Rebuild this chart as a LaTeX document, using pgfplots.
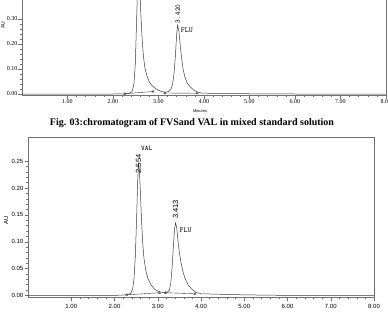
\documentclass[border=0pt]{standalone}
\usepackage{fontspec}
\setmainfont{Liberation Serif}
\newfontfamily\arialf{Liberation Sans}
\newfontfamily\timesf{Liberation Serif}
\usepackage{pgfplots}
\pgfplotsset{compat=1.18}
\definecolor{framec}{HTML}{707070}
\definecolor{tracec}{HTML}{3A3A3A}

\pgfplotstableread{
x y
0.00 0.000
1.00 0.000
2.00 0.000
2.26 0.001
2.35 0.002
2.42 0.010
2.46 0.040
2.49 0.120
2.52 0.300
2.55 0.500
2.58 0.450
2.61 0.330
2.64 0.220
2.67 0.150
2.70 0.105
2.75 0.070
2.80 0.048
2.86 0.033
2.93 0.022
3.00 0.015
3.07 0.010
3.14 0.007
3.22 0.010
3.27 0.018
3.31 0.040
3.34 0.080
3.37 0.150
3.40 0.240
3.42 0.275
3.45 0.250
3.48 0.190
3.51 0.140
3.54 0.100
3.58 0.068
3.63 0.045
3.70 0.028
3.78 0.015
3.85 0.008
3.95 0.004
4.20 0.002
5.00 0.001
6.00 0.000
8.00 0.000
}\topdata

\pgfplotstableread{
x y
0.00 0.000
1.00 0.000
2.00 0.000
2.28 0.001
2.38 0.004
2.42 0.012
2.45 0.030
2.48 0.070
2.51 0.140
2.535 0.210
2.554 0.245
2.575 0.235
2.60 0.190
2.625 0.140
2.65 0.100
2.68 0.070
2.72 0.048
2.77 0.032
2.84 0.020
2.92 0.012
3.00 0.008
3.08 0.006
3.18 0.005
3.22 0.006
3.27 0.010
3.30 0.022
3.33 0.050
3.36 0.090
3.39 0.125
3.413 0.135
3.44 0.125
3.47 0.100
3.50 0.080
3.54 0.060
3.58 0.045
3.63 0.032
3.70 0.020
3.78 0.012
3.88 0.006
4.00 0.003
4.50 0.002
5.00 0.001
6.00 0.000
8.00 0.000
}\botdata

\begin{document}
\begin{tikzpicture}
\useasboundingbox (0pt,0pt) rectangle (388pt,314pt);
\pgfplotsset{chrom/.style={
  scale only axis, xmin=0, xmax=8,
  axis line style={framec, line width=0.6pt},
  xtick={1,2,...,8}, minor x tick num=4, minor y tick num=4,
  tick align=outside, tick pos=left,
  major tick length=3.5pt, minor tick length=2pt,
  every tick/.style={framec, line width=0.4pt},
  /pgf/number format/fixed, /pgf/number format/fixed zerofill,
  /pgf/number format/precision=2, /pgf/number format/assume math mode=true,
  xticklabel style={inner sep=1pt},
  yticklabel style={inner sep=1pt},
}}
% top chromatogram (cropped at top)
\begin{axis}[chrom, at={(22pt,219pt)}, anchor=south west,
  width=364pt, height=101pt, ymin=-0.004, ymax=0.40,
  ytick={0,0.1,0.2,0.3},
  ticklabel style={font=\timesf\fontsize{6}{6}\selectfont}]
\addplot[tracec, line width=0.5pt] table {\topdata};
\addplot[tracec, line width=0.4pt, mark=triangle, mark size=1.2pt, mark options={solid}] coordinates {(2.26,0.001) (2.88,0.010)};
\addplot[tracec, line width=0.4pt, mark=triangle, mark size=1.2pt] coordinates {(3.14,0.004) (3.85,0.003)};
\node[rotate=90, anchor=west, font=\ttfamily\fontsize{7}{7}\selectfont, inner sep=0.5pt] at (axis cs:3.42,0.281) {3.420};
\node[anchor=west, font=\ttfamily\fontsize{7.5}{7.5}\selectfont, inner sep=0pt] at (axis cs:3.49,0.255) {FLU};
\end{axis}
\node[font=\arialf\fontsize{4}{4}\selectfont] at (200pt,203pt) {Minutes};
\node[rotate=90, font=\arialf\fontsize{5}{5}\selectfont] at (3pt,289pt) {AU};
\node[font=\bfseries\fontsize{10}{11}\selectfont] at (192pt,191pt) {Fig. 03:chromatogram of FVSand VAL in mixed standard solution};
% bottom chromatogram
\begin{axis}[chrom, at={(28pt,17pt)}, anchor=south west,
  width=346pt, height=160pt, ymin=-0.003, ymax=0.295,
  ytick={0,0.05,0.10,0.15,0.20,0.25},
  ticklabel style={font=\arialf\fontsize{6}{6}\selectfont},
  xticklabel style={yshift=-3pt}]
\addplot[tracec, line width=0.5pt] table {\botdata};
\addplot[tracec, line width=0.4pt, mark=triangle, mark size=1.2pt] coordinates {(2.28,0.001) (3.04,0.005)};
\addplot[tracec, line width=0.4pt, mark=triangle, mark size=1.2pt] coordinates {(3.18,0.005) (3.86,0.003)};
\node[rotate=90, anchor=west, font=\arialf\fontsize{7.5}{7.5}\selectfont, inner sep=0.5pt] at (axis cs:2.554,0.226) {2.554};
\node[anchor=west, font=\ttfamily\fontsize{7}{7}\selectfont, inner sep=0pt] at (axis cs:2.61,0.273) {VAL};
\node[rotate=90, anchor=west, font=\arialf\fontsize{7.5}{7.5}\selectfont, inner sep=0.5pt] at (axis cs:3.413,0.141) {3.413};
\node[anchor=west, font=\ttfamily\fontsize{7.5}{7.5}\selectfont, inner sep=0pt] at (axis cs:3.50,0.122) {FLU};
\end{axis}
\node[rotate=90, font=\arialf\fontsize{6}{6}\selectfont] at (6pt,94pt) {AU};
\end{tikzpicture}
\end{document}
